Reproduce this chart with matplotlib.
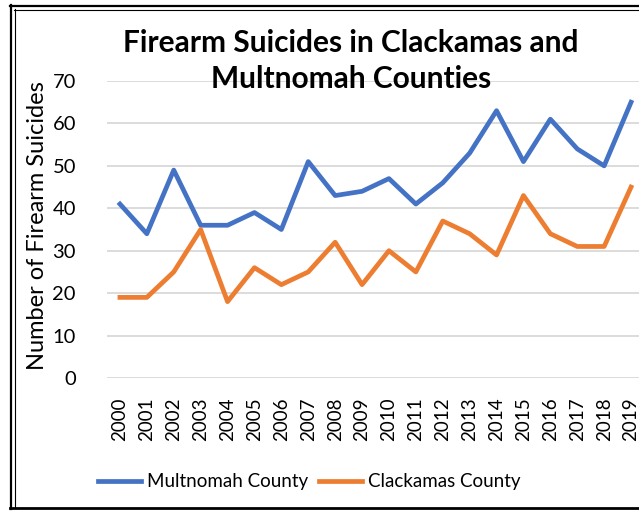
import matplotlib.pyplot as plt
from matplotlib.lines import Line2D

plt.rcParams['font.family'] = ['Lato', 'DejaVu Sans']

years = [str(y) for y in range(2000, 2020)]
multnomah = [41, 34, 49, 36, 36, 39, 35, 51, 43, 44, 47, 41, 46, 53, 63, 51, 61, 54, 50, 65]
clackamas = [19, 19, 25, 35, 18, 26, 22, 25, 32, 22, 30, 25, 37, 34, 29, 43, 34, 31, 31, 45]

W, H = 639, 511
fig = plt.figure(figsize=(W / 100, H / 100), dpi=100)

# axes extends past the right edge (the source image is cropped there)
left, right = 106.5 / W, 644.5 / W
bottom, top = 1 - 378 / H, 1 - 81 / H
ax = fig.add_axes([left, bottom, right - left, top - bottom])

x = list(range(len(years)))
ax.plot(x, multnomah, color='#4472C4', lw=3.4, label='Multnomah County', solid_joinstyle='round')
ax.plot(x, clackamas, color='#ED7D31', lw=3.4, label='Clackamas County', solid_joinstyle='round')

ax.set_xlim(-0.5, len(years) - 0.5)
ax.set_ylim(0, 70)
ax.set_yticks(range(0, 71, 10))
ax.set_xticks(x)
ax.set_xticklabels(years, rotation=90, fontsize=13.5)
ax.tick_params(axis='y', labelsize=14.5, length=0, pad=22)
ax.tick_params(axis='x', length=0, pad=14)
ax.grid(axis='y', color='#d9d9d9', lw=1.3)
ax.set_axisbelow(True)
for s in ax.spines.values():
    s.set_visible(False)

fig.text(38 / W, 1 - 226 / H, 'Number of Firearm Suicides', rotation=90,
         ha='center', va='center', fontsize=17)
fig.text(351 / W, 1 - 61 / H, 'Firearm Suicides in Clackamas and\nMultnomah Counties',
         ha='center', va='center', fontsize=21.5, fontweight='bold', linespacing=1.32)

fig.legend(loc='center', bbox_to_anchor=(309 / W, 1 - 482 / H), ncol=2, frameon=False,
           fontsize=13.5, handlelength=2.3, handletextpad=0.3, columnspacing=0.6)

# outer frame: double line at left/top, thick line at bottom
def hline(y, x0, x1, lw):
    fig.add_artist(Line2D([x0 / W, x1 / W], [1 - y / H, 1 - y / H], color='black', lw=lw))

def vline(xp, y0, y1, lw):
    fig.add_artist(Line2D([xp / W, xp / W], [1 - y0 / H, 1 - y1 / H], color='black', lw=lw))

hline(6, 10, W, 1.6)
hline(10, 14, W, 0.8)
vline(11, 5, 509, 1.6)
vline(15, 9, 507, 0.8)
hline(507.5, 10, W, 2.0)

fig.savefig('out.png', dpi=100)
